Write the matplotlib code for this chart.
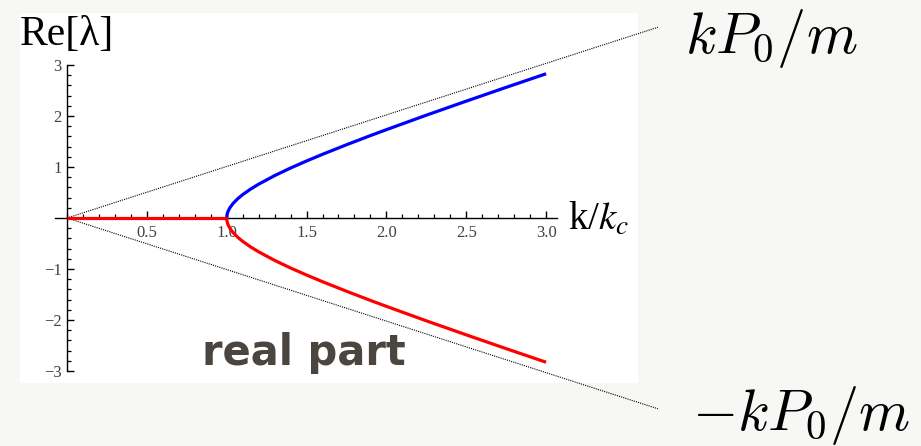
import matplotlib
matplotlib.use("Agg")
import matplotlib.pyplot as plt
from matplotlib.patches import Rectangle
from matplotlib.ticker import MultipleLocator, FixedLocator, FixedFormatter

# Growth rates (real part of the eigenvalue) versus k/k_c
zero_k = [0.0, 1.0]
zero_re = [0.0, 0.0]

branch_k = [1.000, 1.001, 1.005, 1.01, 1.02, 1.04, 1.07, 1.10, 1.15, 1.20, 1.30,
            1.40, 1.50, 1.60, 1.75, 1.90, 2.00, 2.25, 2.50, 2.75, 3.00]
upper_re = [0.000, 0.045, 0.100, 0.142, 0.201, 0.286, 0.381, 0.458, 0.568, 0.663, 0.831,
            0.980, 1.118, 1.249, 1.436, 1.616, 1.732, 2.016, 2.291, 2.562, 2.828]
lower_re = [-0.000, -0.045, -0.100, -0.142, -0.201, -0.286, -0.381, -0.458, -0.568, -0.663, -0.831,
            -0.980, -1.118, -1.249, -1.436, -1.616, -1.732, -2.016, -2.291, -2.562, -2.828]

# Asymptotes +/- k P0 / m
asym_k = [0.0, 3.70]
asym_up = [0.0, 3.74]
asym_down = [0.0, -3.74]

x_major = [0.5, 1.0, 1.5, 2.0, 2.5, 3.0]
x_labels = ["0.5", "1.0", "1.5", "2.0", "2.5", "3.0"]
y_major = [-3, -2, -1, 1, 2, 3]
y_labels = ["\u22123", "\u22122", "\u22121", "1", "2", "3"]

W, H = 921, 446
fig = plt.figure(figsize=(W / 100, H / 100), dpi=100)
fig.patch.set_facecolor("#f7f7f5")

# white panel behind the plot
panel = Rectangle((20 / W, 1 - 383 / H), 618 / W, 370 / H,
                  transform=fig.transFigure, facecolor="white",
                  edgecolor="none", zorder=-10)
fig.patches.append(panel)

# axes geometry: x=0 at px 67, 159.7 px/unit; y=0 at px 218, 51 px/unit
px_x, px_y = 159.7, 51.0
x0, x1 = -0.075, 3.07
y0, y1 = -3.0, 3.0
left_px = 67 + x0 * px_x
bottom_px = 218 + (-y0) * px_y
ax = fig.add_axes([left_px / W, 1 - bottom_px / H,
                   (x1 - x0) * px_x / W, (y1 - y0) * px_y / H])
ax.set_zorder(1)
ax.set_xlim(x0, x1)
ax.set_ylim(y0, y1)
ax.patch.set_alpha(0)

for s in ("top", "right"):
    ax.spines[s].set_visible(False)
ax.spines["left"].set_position(("data", 0))
ax.spines["bottom"].set_position(("data", 0))
for s in ("left", "bottom"):
    ax.spines[s].set_linewidth(1.0)
    ax.spines[s].set_color("black")

ax.xaxis.set_major_locator(FixedLocator(x_major))
ax.xaxis.set_major_formatter(FixedFormatter(x_labels))
ax.xaxis.set_minor_locator(MultipleLocator(0.1))
ax.yaxis.set_major_locator(FixedLocator(y_major))
ax.yaxis.set_major_formatter(FixedFormatter(y_labels))
ax.yaxis.set_minor_locator(MultipleLocator(0.2))

ax.tick_params(axis="both", which="major", direction="in", length=5, width=1.0,
               colors="black", labelcolor="#404040", labelsize=12)
ax.tick_params(axis="both", which="minor", direction="in", length=3, width=0.9,
               colors="black")
ax.tick_params(axis="x", which="major", pad=5)
ax.tick_params(axis="y", which="major", pad=4)
for lab in ax.get_xticklabels() + ax.get_yticklabels():
    lab.set_fontfamily("Liberation Serif")

# curves
ax.plot(branch_k, upper_re, color="#0000ff", lw=2.3, solid_joinstyle="round",
        solid_capstyle="butt", zorder=4, clip_on=False)
ax.plot(branch_k, lower_re, color="#ff0000", lw=2.3, solid_joinstyle="round",
        solid_capstyle="butt", zorder=4, clip_on=False)
ax.plot(zero_k, zero_re, color="#ff0000", lw=2.3, solid_capstyle="butt",
        zorder=4, clip_on=False)

# asymptotes
ax.plot(asym_k, asym_up, color="black", lw=0.8, ls=(0, (1, 1)), zorder=3, clip_on=False)
ax.plot(asym_k, asym_down, color="black", lw=0.8, ls=(0, (1, 1)), zorder=3, clip_on=False)

# labels
fig.text(20 / W, 1 - 45 / H, "Re[\u03bb]", family="Liberation Serif", fontsize=30,
         va="baseline", ha="left")
fig.text(568 / W, 1 - 230 / H, r"k/$k_c$", family="Liberation Serif", fontsize=28,
         va="baseline", ha="left", math_fontfamily="stix")
fig.text(685 / W, 1 - 53 / H, r"$kP_0/m$", fontsize=42, va="baseline", ha="left",
         math_fontfamily="cm")
fig.text(692 / W, 1 - 430 / H, r"$-kP_0/m$", fontsize=42, va="baseline", ha="left",
         math_fontfamily="cm")
fig.text(202 / W, 1 - 365 / H, "real part", family="DejaVu Sans", fontweight="bold",
         fontsize=30, color="#4a453f", va="baseline", ha="left")

fig.savefig("out.png", dpi=100, facecolor=fig.get_facecolor())
